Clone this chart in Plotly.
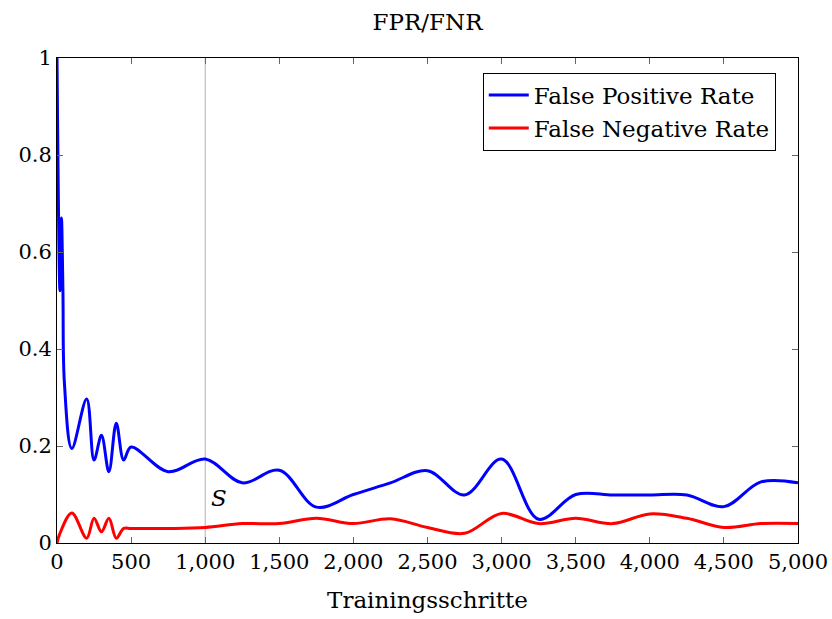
import plotly.graph_objects as go

steps_fpr = [0, 20, 30, 40, 50, 100, 200, 250, 300, 350, 400, 450, 500, 750, 1000, 1250, 1500, 1750, 2000,
             2250, 2500, 2750, 3000, 3250, 3500, 3750, 4000, 4250, 4500, 4750, 5000]
fpr = [1.0, 0.52, 0.67, 0.52, 0.33, 0.195, 0.297, 0.171, 0.222, 0.147, 0.247, 0.171, 0.198, 0.147, 0.173,
       0.124, 0.15, 0.074, 0.1, 0.124, 0.149, 0.099, 0.173, 0.049, 0.1, 0.099, 0.099, 0.099, 0.075, 0.126, 0.124]

steps_fnr = [0, 20, 100, 200, 250, 300, 350, 400, 450, 500, 750, 1000, 1250, 1500, 1750, 2000, 2250, 2500,
             2750, 3000, 3250, 3500, 3750, 4000, 4250, 4500, 4750, 5000]
fnr = [0.0, 0.02, 0.062, 0.01, 0.051, 0.023, 0.051, 0.01, 0.03, 0.03, 0.03, 0.032, 0.04, 0.04, 0.051, 0.04,
       0.05, 0.032, 0.02, 0.061, 0.04, 0.051, 0.04, 0.06, 0.051, 0.032, 0.04, 0.04]

x_ticks = [0, 500, 1000, 1500, 2000, 2500, 3000, 3500, 4000, 4500, 5000]
y_ticks = [0, 0.2, 0.4, 0.6, 0.8, 1]
y_tick_text = ["0", "0.2", "0.4", "0.6", "0.8", "1"]

FONT = "DejaVu Serif"

fig = go.Figure()
fig.add_trace(go.Scatter(x=steps_fpr, y=fpr, mode="lines", name="False Positive Rate",
                         line=dict(color="#0000ff", width=3, shape="spline", smoothing=1.0)))
fig.add_trace(go.Scatter(x=steps_fnr, y=fnr, mode="lines", name="False Negative Rate",
                         line=dict(color="#ff0000", width=3, shape="spline", smoothing=1.0)))

fig.add_shape(type="line", xref="x", yref="paper", x0=1000, x1=1000, y0=0, y1=1,
              line=dict(color="#b0b0b0", width=1), layer="below")

fig.add_annotation(x=1090, y=0.092, text="<i>S</i>", showarrow=False,
                   font=dict(family=FONT, size=23, color="black"))

fig.update_layout(
    width=832, height=619,
    margin=dict(l=57, r=34, t=58, b=76, autoexpand=False),
    paper_bgcolor="white", plot_bgcolor="white",
    font=dict(family=FONT, size=21, color="black"),
    title=dict(text="FPR/FNR", x=0.5, xref="paper", xanchor="center", y=0.965, yanchor="middle",
               font=dict(family=FONT, size=23)),
    legend=dict(x=0.97, y=0.97, xanchor="right", yanchor="top", bgcolor="white",
                bordercolor="black", borderwidth=1, font=dict(family=FONT, size=23),
                itemwidth=40, tracegroupgap=4),
    showlegend=True,
)
fig.update_xaxes(range=[0, 5000], tickvals=x_ticks, tickformat=",", ticks="inside", ticklen=6,
                 tickcolor="#666", showline=True, linecolor="black", linewidth=1, mirror="ticks",
                 showgrid=False, zeroline=False, automargin=False,
                 title=dict(text="Trainingsschritte", font=dict(family=FONT, size=23), standoff=18))
fig.update_yaxes(range=[0, 1], tickvals=y_ticks, ticktext=y_tick_text, ticks="inside", ticklen=6,
                 tickcolor="#666", showline=True, linecolor="black", linewidth=1, mirror="ticks",
                 showgrid=False, zeroline=False, automargin=False)

fig.write_html("out.html")
